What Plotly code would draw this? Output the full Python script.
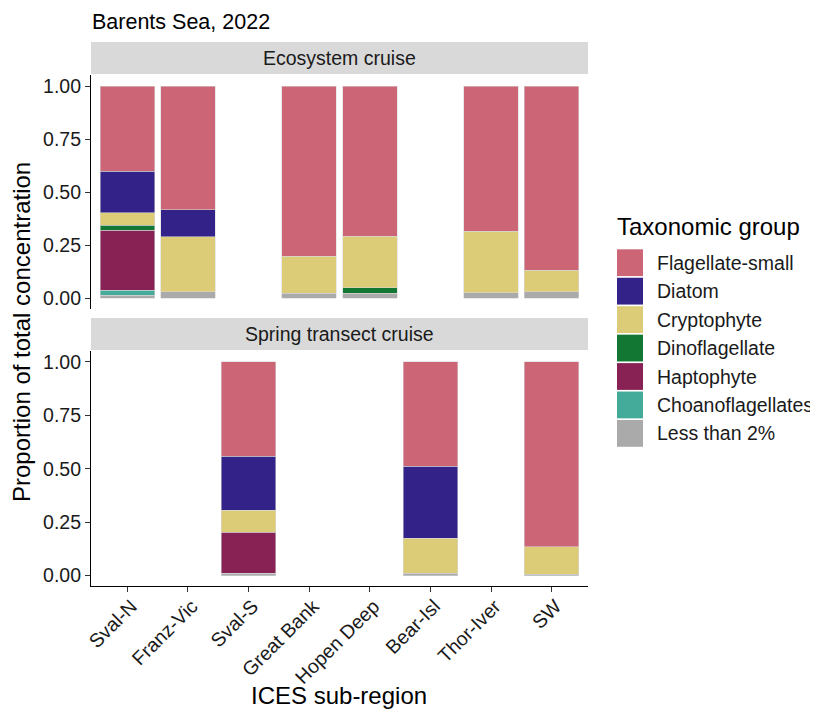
import plotly.graph_objects as go

W, H = 818, 709
OFF = 8  # default page body margin in the exported html
FW, FH = W - OFF, H - OFF

regions = ["Sval-N", "Franz-Vic", "Sval-S", "Great Bank", "Hopen Deep", "Bear-Isl", "Thor-Iver", "SW"]

groups = ["Flagellate-small", "Diatom", "Cryptophyte", "Dinoflagellate", "Haptophyte", "Choanoflagellates", "Less than 2%"]
colors = ["#CC6677", "#332288", "#DDCC77", "#117733", "#882255", "#44AA99", "#AAAAAA"]

# Ecosystem cruise proportions (None = no sample)
eco_flag = [0.402, 0.583, None, 0.803, 0.709, None, 0.684, 0.868]
eco_diat = [0.197, 0.129, None, 0, 0, None, 0, 0]
eco_cryp = [0.057, 0.258, None, 0.175, 0.242, None, 0.291, 0.102]
eco_dino = [0.025, 0, None, 0, 0.027, None, 0, 0]
eco_hapt = [0.283, 0, None, 0, 0, None, 0, 0]
eco_chon = [0.022, 0, None, 0, 0, None, 0, 0]
eco_less = [0.014, 0.030, None, 0.022, 0.022, None, 0.025, 0.030]

# Spring transect cruise proportions
spr_flag = [None, None, 0.442, None, None, 0.489, None, 0.865]
spr_diat = [None, None, 0.253, None, None, 0.337, None, 0]
spr_cryp = [None, None, 0.103, None, None, 0.164, None, 0.129]
spr_dino = [None, None, 0, None, None, 0, None, 0]
spr_hapt = [None, None, 0.192, None, None, 0, None, 0]
spr_chon = [None, None, 0, None, None, 0, None, 0]
spr_less = [None, None, 0.010, None, None, 0.010, None, 0.006]

eco = [eco_flag, eco_diat, eco_cryp, eco_dino, eco_hapt, eco_chon, eco_less]
spr = [spr_flag, spr_diat, spr_cryp, spr_dino, spr_hapt, spr_chon, spr_less]

FONT = "Liberation Sans, Arial, sans-serif"
TXT = "#1a1a1a"

def px_x(p):
    return (p - OFF) / FW

def px_y(p):
    return 1 - (p - OFF) / FH

fig = go.Figure()

def clean(vals):
    return [v if (v is not None and v > 0) else None for v in vals]

# stack from bottom (Less than 2%) to top (Flagellate-small)
for panel, data in (("1", eco), ("2", spr)):
    for i in reversed(range(len(groups))):
        fig.add_trace(go.Bar(
            x=regions, y=clean(data[i]), name=groups[i],
            marker=dict(color=colors[i], line=dict(color="rgba(215,215,215,0.9)", width=0.6)),
            width=0.9, showlegend=False,
            xaxis="x" if panel == "1" else "x2",
            yaxis="y" if panel == "1" else "y2",
        ))

xdom = [px_x(91), px_x(588)]
top_dom = [px_y(308.6), px_y(75.4)]
bot_dom = [px_y(586.2), px_y(351.3)]

yax = dict(range=[-0.05, 1.05], tickvals=[0, 0.25, 0.5, 0.75, 1.0], tickformat=".2f",
           showline=True, linecolor="black", linewidth=1.1, ticks="outside", ticklen=5,
           tickcolor="#333333", tickwidth=1.1, showgrid=False, zeroline=False,
           automargin=False,
           tickfont=dict(family=FONT, size=19.5, color=TXT), fixedrange=True)

fig.update_layout(
    template="none",
    width=FW, height=FH,
    margin=dict(l=0, r=0, t=0, b=0, pad=0),
    paper_bgcolor="white", plot_bgcolor="white",
    barmode="stack", bargap=0.1,
    font=dict(family=FONT, color=TXT),
    showlegend=False,
    xaxis=dict(domain=xdom, anchor="y", type="category", categoryarray=regions,
               categoryorder="array", range=[-0.6, 7.6], showticklabels=False,
               showline=False, ticks="", showgrid=False, zeroline=False, automargin=False),
    yaxis=dict(domain=top_dom, anchor="x", **yax),
    xaxis2=dict(domain=xdom, anchor="y2", type="category", categoryarray=regions,
                categoryorder="array", range=[-0.6, 7.6], showline=True,
                linecolor="black", linewidth=1.1, ticks="outside", ticklen=5,
                tickcolor="#333333", tickwidth=1.1, tickangle=-45, showgrid=False,
                zeroline=False, automargin=False, ticklabelshift=4, ticklabelstandoff=-5,
                tickfont=dict(family=FONT, size=19.5, color=TXT)),
    yaxis2=dict(domain=bot_dom, anchor="x2", **yax),
)

shapes = []
annos = []

# facet strips
for (y0, y1, label) in ((42, 74, "Ecosystem cruise"), (318, 350, "Spring transect cruise")):
    shapes.append(dict(type="rect", xref="paper", yref="paper",
                       x0=xdom[0], x1=xdom[1], y0=px_y(y1), y1=px_y(y0),
                       fillcolor="#D9D9D9", line=dict(width=0), layer="below"))
    annos.append(dict(xref="paper", yref="paper", x=(xdom[0] + xdom[1]) / 2,
                      y=px_y((y0 + y1) / 2), text=label, showarrow=False,
                      xanchor="center", yanchor="middle",
                      font=dict(family=FONT, size=19.5, color=TXT)))

# title
annos.append(dict(xref="paper", yref="paper", x=px_x(90), y=px_y(22), text="Barents Sea, 2022",
                  showarrow=False, xanchor="left", yanchor="middle",
                  font=dict(family=FONT, size=21.5, color="black")))

# axis titles
annos.append(dict(xref="paper", yref="paper", x=(xdom[0] + xdom[1]) / 2, y=px_y(695),
                  text="ICES sub-region", showarrow=False, xanchor="center", yanchor="middle",
                  font=dict(family=FONT, size=24, color="black")))
annos.append(dict(xref="paper", yref="paper", x=px_x(21), y=px_y(332),
                  text="Proportion of total concentration", showarrow=False, textangle=-90,
                  xanchor="center", yanchor="middle",
                  font=dict(family=FONT, size=24, color="black")))

# legend (drawn manually)
annos.append(dict(xref="paper", yref="paper", x=px_x(615), y=px_y(226),
                  text="Taxonomic group", showarrow=False, xanchor="left", yanchor="middle",
                  font=dict(family=FONT, size=24, color="black")))
pitch = 28.45
for i, (g, c) in enumerate(zip(groups, colors)):
    top = 249.3 + i * pitch
    shapes.append(dict(type="rect", xref="paper", yref="paper",
                       x0=px_x(617), x1=px_x(643), y0=px_y(top + 26.8), y1=px_y(top),
                       fillcolor=c, line=dict(width=0)))
    annos.append(dict(xref="paper", yref="paper", x=px_x(655), y=px_y(top + 13.4),
                      text=g, showarrow=False, xanchor="left", yanchor="middle",
                      font=dict(family=FONT, size=19.5, color=TXT)))

fig.update_layout(shapes=shapes, annotations=annos)

fig.write_html("out.html")
